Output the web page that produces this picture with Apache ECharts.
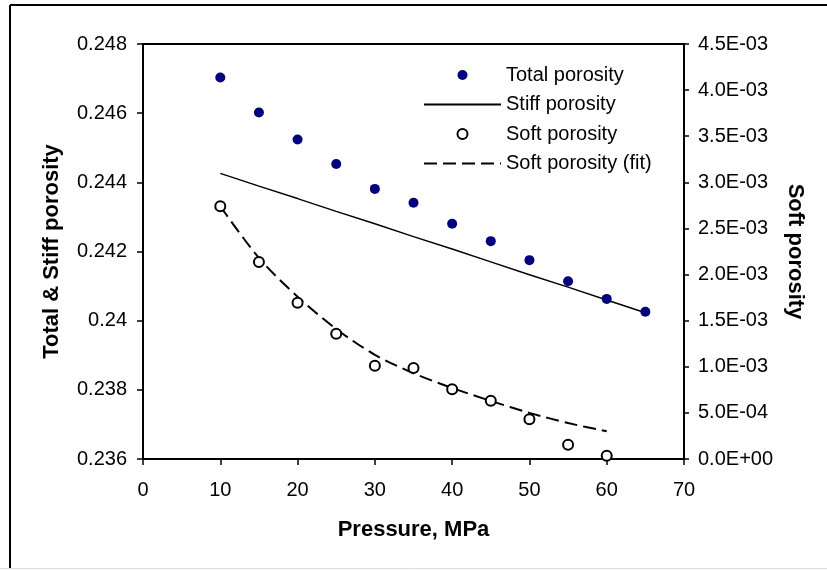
<!DOCTYPE html>
<html>
<head>
<meta charset="utf-8">
<script src="https://cdn.jsdelivr.net/npm/echarts@6/dist/echarts.min.js"></script>
<style>
  html, body { margin: 0; padding: 0; background: #fff; }
  #chart { width: 827px; height: 570px; }
</style>
</head>
<body>
<div id="chart"></div>
<script>
// Pressure steps, MPa
const pressure = [10, 15, 20, 25, 30, 35, 40, 45, 50, 55, 60, 65];
// Total porosity (left axis)
const totalPorosity = [0.24703, 0.24602, 0.24524, 0.24453, 0.24381, 0.24341, 0.24280, 0.24230, 0.24175, 0.24114, 0.24063, 0.24026];
// Stiff porosity trend (left axis)
const stiffPorosity = [0.24426, 0.24389, 0.24353, 0.24316, 0.24280, 0.24243, 0.24207, 0.24170, 0.24133, 0.24097, 0.24060, 0.24023];
// Soft porosity, measured (right axis)
const softPressure = [10, 15, 20, 25, 30, 35, 40, 45, 50, 55, 60];
const softPorosity = [0.002741, 0.002137, 0.001695, 0.001359, 0.001012, 0.000987, 0.000756, 0.000632, 0.000430, 0.000155, 0.000036];
// Soft porosity, fitted curve (right axis)
const softFit = [0.002741, 0.002180, 0.001760, 0.001410, 0.001130, 0.000930, 0.000770, 0.000630, 0.000500, 0.000390, 0.000300];

// Tick labels
const leftTicks = ['0.236', '0.238', '0.24', '0.242', '0.244', '0.246', '0.248'];
const rightTicks = ['0.0E+00', '5.0E-04', '1.0E-03', '1.5E-03', '2.0E-03', '2.5E-03', '3.0E-03', '3.5E-03', '4.0E-03', '4.5E-03'];

const FONT = 'Liberation Sans';
const pairs = (xs, ys) => xs.map((x, i) => [x, ys[i]]);

const chart = echarts.init(document.getElementById('chart'), null, { renderer: 'canvas' });

chart.setOption({
  animation: false,
  backgroundColor: '#fff',
  textStyle: { fontFamily: FONT },
  graphic: [
    { type: 'line', shape: { x1: 10, y1: 5, x2: 827, y2: 5 }, style: { stroke: '#000', lineWidth: 2 } },
    { type: 'line', shape: { x1: 10, y1: 5, x2: 10, y2: 568 }, style: { stroke: '#000', lineWidth: 2 } },
    { type: 'line', shape: { x1: 0, y1: 568.5, x2: 827, y2: 568.5 }, style: { stroke: '#ddd', lineWidth: 1 } }
  ],
  grid: {
    left: 143, right: 143, top: 44, bottom: 111,
    show: true, borderColor: '#000', borderWidth: 2, backgroundColor: 'transparent'
  },
  legend: {
    orient: 'vertical',
    left: 418, top: 60,
    itemWidth: 77, itemHeight: 10, itemGap: 9.5,
    textStyle: { fontFamily: FONT, fontSize: 20, color: '#000', lineHeight: 20 },
    data: [
      { name: 'Total porosity' },
      { name: 'Stiff porosity', itemStyle: { opacity: 0 } },
      { name: 'Soft porosity' },
      { name: 'Soft porosity (fit)', itemStyle: { opacity: 0 } }
    ]
  },
  xAxis: {
    type: 'value', min: 0, max: 70, interval: 10,
    name: 'Pressure, MPa', nameLocation: 'middle', nameGap: 60,
    nameTextStyle: { fontFamily: FONT, fontSize: 22, fontWeight: 'bold', color: '#000' },
    axisLine: { show: true, lineStyle: { color: '#000', width: 2 } },
    axisTick: { show: true, inside: false, length: 6, lineStyle: { color: '#000', width: 1.5 } },
    axisLabel: { fontFamily: FONT, fontSize: 20, color: '#000', margin: 21 },
    splitLine: { show: false }
  },
  yAxis: [
    {
      type: 'value', min: 0.236, max: 0.248, interval: 0.002, position: 'left',
      name: 'Total & Stiff porosity', nameLocation: 'middle', nameGap: 80,
      nameTextStyle: { fontFamily: FONT, fontSize: 22, fontWeight: 'bold', color: '#000' },
      axisLine: { show: true, lineStyle: { color: '#000', width: 2 } },
      axisTick: { show: true, inside: false, length: 6, lineStyle: { color: '#000', width: 1.5 } },
      axisLabel: {
        fontFamily: FONT, fontSize: 20, color: '#000', margin: 16,
        formatter: v => leftTicks[Math.round((v - 0.236) / 0.002)]
      },
      splitLine: { show: false }
    },
    {
      type: 'value', min: 0, max: 0.0045, interval: 0.0005, position: 'right',
      name: 'Soft porosity', nameLocation: 'middle', nameGap: 100, nameRotate: -90,
      nameTextStyle: { fontFamily: FONT, fontSize: 22, fontWeight: 'bold', color: '#000' },
      axisLine: { show: true, lineStyle: { color: '#000', width: 2 } },
      axisTick: { show: true, inside: false, length: 5, lineStyle: { color: '#000', width: 1.5 } },
      axisLabel: {
        fontFamily: FONT, fontSize: 20, color: '#000', margin: 14,
        formatter: v => rightTicks[Math.round(v / 0.0005)]
      },
      splitLine: { show: false }
    }
  ],
  series: [
    {
      name: 'Total porosity', type: 'scatter', yAxisIndex: 0,
      data: pairs(pressure, totalPorosity),
      symbol: 'circle', symbolSize: 10,
      itemStyle: { color: '#000080', opacity: 1 }, z: 5
    },
    {
      name: 'Stiff porosity', type: 'line', yAxisIndex: 0,
      data: pairs(pressure, stiffPorosity),
      showSymbol: false, symbol: 'none',
      lineStyle: { color: '#000', width: 1.5 },
      itemStyle: { color: '#000' }, z: 3
    },
    {
      name: 'Soft porosity (fit)', type: 'line', yAxisIndex: 1,
      data: pairs(softPressure, softFit),
      showSymbol: false, symbol: 'none', smooth: 0.3,
      lineStyle: { color: '#000', width: 2, type: [13, 6] },
      itemStyle: { color: '#000' }, z: 3
    },
    {
      name: 'Soft porosity', type: 'scatter', yAxisIndex: 1,
      data: pairs(softPressure, softPorosity),
      symbol: 'circle', symbolSize: 10,
      itemStyle: { color: '#fff', borderColor: '#000', borderWidth: 2, opacity: 1 }, z: 6
    }
  ]
});
</script>
</body>
</html>
